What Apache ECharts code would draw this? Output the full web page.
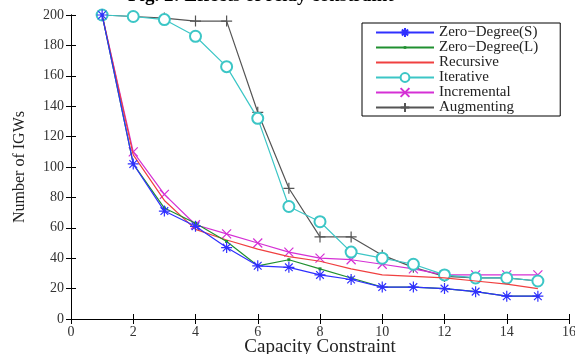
<!DOCTYPE html>
<html><head><meta charset="utf-8">
<script src="https://cdn.jsdelivr.net/npm/echarts@6/dist/echarts.min.js"></script>
<style>html,body{margin:0;padding:0;background:#fff}#c{width:575px;height:354px}</style>
</head><body><div id="c"></div>
<script>
const xs = [1,2,3,4,5,6,7,8,9,10,11,12,13,14,15];
const zeroS = [200,102,71,61,47,35,34,29,26,21,21,20,18,15,15];
const zeroL = [200,102,73,63,51,35,39,33,27,21,21,20,18,15,15];
const recursive = [200,108,78,59,52,46,41,38,33,29,28,27,25,23,20];
const iterative = [200,199,197,186,166,132,74,64,44,40,36,29,27,27,25];
const incremental = [200,110,82,62,56,50,44,40,39,36,33,29,29,29,29];
const augmenting = [200,199,198,196,196,136,86,54,54,42,34,28,27,27,25];
const names = ['Zero\u2212Degree(S)','Zero\u2212Degree(L)','Recursive','Iterative','Incremental','Augmenting'];
const xTicks = [0,2,4,6,8,10,12,14,16];
const yTicks = [0,20,40,60,80,100,120,140,160,180,200];

const serif = '"Liberation Serif","DejaVu Serif",serif';
const pair = a => xs.map((x,i)=>[x,a[i]]);
const cols = ['#3030ff','#209030','#f04040','#3cc6c6','#d530d5','#555555'];
const syms = [
  'path://M0,5L10,5M5,0L5,10M1.5,1.5L8.5,8.5M1.5,8.5L8.5,1.5',
  'path://M0,0M10,10M3.5,3.5L6.5,3.5L6.5,6.5L3.5,6.5Z',
  'path://M0,0M10,10',
  'emptyCircle',
  'path://M0,0L10,10M0,10L10,0',
  'path://M0,5L10,5M5,0L5,10'
];
const sizes = [11,10,10,11,9,11];
const fills = ['rgba(0,0,0,0)', cols[1], 'rgba(0,0,0,0)', cols[3], 'rgba(0,0,0,0)', 'rgba(0,0,0,0)'];
const bw = [1.2,0,0,1,1.2,1.2];
const datas = [zeroS,zeroL,recursive,iterative,incremental,augmenting];
const series = datas.map((d,i)=>({
  name: names[i], type:'line', data: pair(d),
  symbol: syms[i], symbolSize: sizes[i], showSymbol: true,
  lineStyle:{color:cols[i], width:1.2},
  itemStyle:{color: fills[i], borderColor:cols[i], borderWidth:bw[i]},
  emphasis:{disabled:true},
  z: 10-i, animation:false
}));

const chart = echarts.init(document.getElementById('c'));
chart.setOption({
  animation:false,
  title:{text:'Fig. 2: Effects of relay constraint', left:128, top:-13, padding:0,
    textStyle:{fontFamily:serif, fontWeight:'bold', fontSize:19, color:'#000'}},
  grid:{left:71, right:6, top:15, bottom:35, containLabel:false, outerBoundsMode:'none'},
  legend:{orient:'vertical', left:362, top:23, data:names, backgroundColor:'#fff',
    borderColor:'#000', borderWidth:1, padding:[2,22,1,13], itemGap:0,
    itemWidth:58, itemHeight:11,
    textStyle:{fontFamily:serif, fontSize:15, lineHeight:13, color:'#222'}},
  xAxis:[{type:'value', min:0, max:16, interval:2, position:'bottom',
    name:'Capacity Constraint', nameLocation:'middle', nameGap:19, nameMoveOverlap:false,
    nameTextStyle:{fontFamily:serif, fontSize:19, color:'#222'},
    axisLine:{lineStyle:{color:'#000'}}, axisTick:{inside:true, length:5, lineStyle:{color:'#000'}},
    axisLabel:{fontFamily:serif, fontSize:14, color:'#333', margin:6,
      formatter: v => xTicks.includes(v) ? String(v) : ''}, splitLine:{show:false}},
   {type:'value', min:0, max:16, interval:2, position:'top',
    axisLine:{lineStyle:{color:'#000'}}, axisTick:{inside:true, length:5, lineStyle:{color:'#000'}},
    axisLabel:{show:false}, splitLine:{show:false}}],
  yAxis:[{type:'value', min:0, max:200, interval:20, position:'left',
    name:'Number of IGWs', nameLocation:'middle', nameGap:43, nameMoveOverlap:false,
    nameTextStyle:{fontFamily:serif, fontSize:16, color:'#222'},
    axisLine:{show:true, lineStyle:{color:'#000'}}, axisTick:{show:true, inside:true, length:5, lineStyle:{color:'#000'}},
    axisLabel:{fontFamily:serif, fontSize:14, color:'#333', margin:7,
      formatter: v => yTicks.includes(v) ? String(v) : ''}, splitLine:{show:false}},
   {type:'value', min:0, max:200, interval:20, position:'right',
    axisLine:{show:true, lineStyle:{color:'#000'}}, axisTick:{show:true, inside:true, length:5, lineStyle:{color:'#000'}},
    axisLabel:{show:false}, splitLine:{show:false}}],
  series: series
});
</script></body></html>
